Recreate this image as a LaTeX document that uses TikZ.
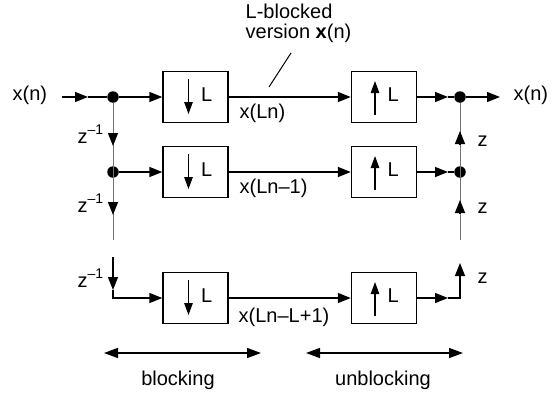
\documentclass[tikz,border=0pt]{standalone}
\usepackage{fontspec}
\setmainfont{Liberation Sans}
\usetikzlibrary{arrows.meta}
\begin{document}
\begin{tikzpicture}[x=1pt,y=-1pt,
  font=\fontsize{20}{22}\selectfont,
  line width=1.4pt,
  tip/.style={-{Triangle[length=13pt,width=10pt]}},
  itip/.style={line width=1.2pt,-{Triangle[length=12pt,width=8.5pt]}},
  dtip/.style={{Triangle[length=14pt,width=10pt]}-{Triangle[length=14pt,width=10pt]}},
  blk/.style={draw, line width=1.4pt, minimum width=65pt, minimum height=51pt, inner sep=0pt},
  dot/.style={circle, fill, inner sep=0pt, minimum size=11.5pt},
  gl/.style={draw=black!55, line width=1pt},
  lab/.style={inner sep=0pt, anchor=base west}]
\useasboundingbox (0,0) rectangle (556,394);

% boxes
\node[blk] (b1) at (195.5,97) {};
\node[blk] (b2) at (195.5,172) {};
\node[blk] (b3) at (195.5,298) {};
\node[blk] (b4) at (384,97) {};
\node[blk] (b5) at (384,172) {};
\node[blk] (b6) at (384,298) {};

% inner arrows and L
\foreach \b in {b1,b2,b3} {
  \draw[itip] ([shift={(-7,-18)}]\b.center) -- ([shift={(-7,17)}]\b.center);
  \node[lab] (L\b) at ([shift={(5,4)}]\b.center) {L};
}
\foreach \b in {b4,b5,b6} {
  \draw[itip] ([shift={(-9,18)}]\b.center) -- ([shift={(-9,-16)}]\b.center);
  \node[lab] (L\b) at ([shift={(3,4)}]\b.center) {L};
}

% dots
\node[dot] (dl1) at (113,97) {};
\node[dot] (dl2) at (113,172) {};
\node[dot] (dr1) at (460,97) {};
\node[dot] (dr2) at (460,172) {};

% coordinates
\coordinate (in) at (62,97);
\coordinate (inm) at (88,97);
\coordinate (lv) at (113,240);
\coordinate (la1s) at (113,133);
\coordinate (la1t) at (113,146);
\coordinate (la2s) at (113,202);
\coordinate (la2t) at (113,215);
\coordinate (ll0) at (113,257);
\coordinate (ll1) at (113,290);
\coordinate (ll2) at (113,298);
\coordinate (rv) at (460,240);
\coordinate (ra1s) at (460,145);
\coordinate (ra1t) at (460,131);
\coordinate (ra2s) at (460,213);
\coordinate (ra2t) at (460,200);
\coordinate (rm1) at (448,97);
\coordinate (rm2) at (448,172);
\coordinate (rm3) at (448,298);
\coordinate (r3c) at (460,298);
\coordinate (rt3) at (460,263);
\coordinate (out) at (500,97);

% gray verticals
\draw[gl] (dl1) -- (lv);
\draw[gl] (rv) -- (dr1);

% left side
\draw[tip] (in) -- (inm);
\draw (inm) -- (dl1);
\draw[tip] (dl1) -- (b1);
\draw[tip] (dl2) -- (b2);
\draw[tip] (la1s) -- (la1t);
\draw[tip] (la2s) -- (la2t);
\draw[tip] (ll0) -- (ll1);
\draw[tip] (ll1) -- (ll2) -- (b3.west);

% middle
\draw[tip] (b1) -- (b4);
\draw[tip] (b2) -- (b5);
\draw[tip] (b3) -- (b6);

% right side
\draw[tip] (b4) -- (rm1);
\draw (rm1) -- (dr1);
\draw[tip] (b5) -- (rm2);
\draw (rm2) -- (dr2);
\draw[tip] (b6) -- (rm3);
\draw[tip] (rm3) -- (r3c) -- (rt3);
\draw[tip] (ra1s) -- (ra1t);
\draw[tip] (ra2s) -- (ra2t);
\draw[tip] (dr1) -- (out);

% labels
\node[lab] (xin) at (12,100) {x(n)};
\node[lab] (xout) at (513,100) {x(n)};
\node[lab] (x1) at (239,118) {x(Ln)};
\node[lab] (x2) at (239,193) {x(Ln–1)};
\node[lab] (x3) at (238,322) {x(Ln–L+1)};
\node[lab] (zl1) at (77,143) {z\raisebox{9pt}{\fontsize{14}{14}\selectfont –1}};
\node[lab] (zl2) at (77,212) {z\raisebox{9pt}{\fontsize{14}{14}\selectfont –1}};
\node[lab] (zl3) at (77,287) {z\raisebox{9pt}{\fontsize{14}{14}\selectfont –1}};
\node[lab] (zr1) at (477,146) {z};
\node[lab] (zr2) at (477,213) {z};
\node[lab] (zr3) at (477,283) {z};

% annotation
\node[lab] (ann1) at (245,18) {L-blocked};
\node[lab] (ann2) at (245,38) {version \textbf{x}(n)};
\coordinate (s1) at (291,53);
\coordinate (s2) at (269,87);
\draw[line width=1pt] (s1) -- (s2);

% bottom
\coordinate (ba) at (104,353);
\coordinate (bb) at (261,353);
\coordinate (ua) at (306,353);
\coordinate (ub) at (463,353);
\draw[dtip] (ba) -- (bb);
\draw[dtip] (ua) -- (ub);
\node[inner sep=0pt, anchor=base] (tb) at (178,385) {blocking};
\node[inner sep=0pt, anchor=base] (tu) at (383,385) {unblocking};
\end{tikzpicture}
\end{document}
